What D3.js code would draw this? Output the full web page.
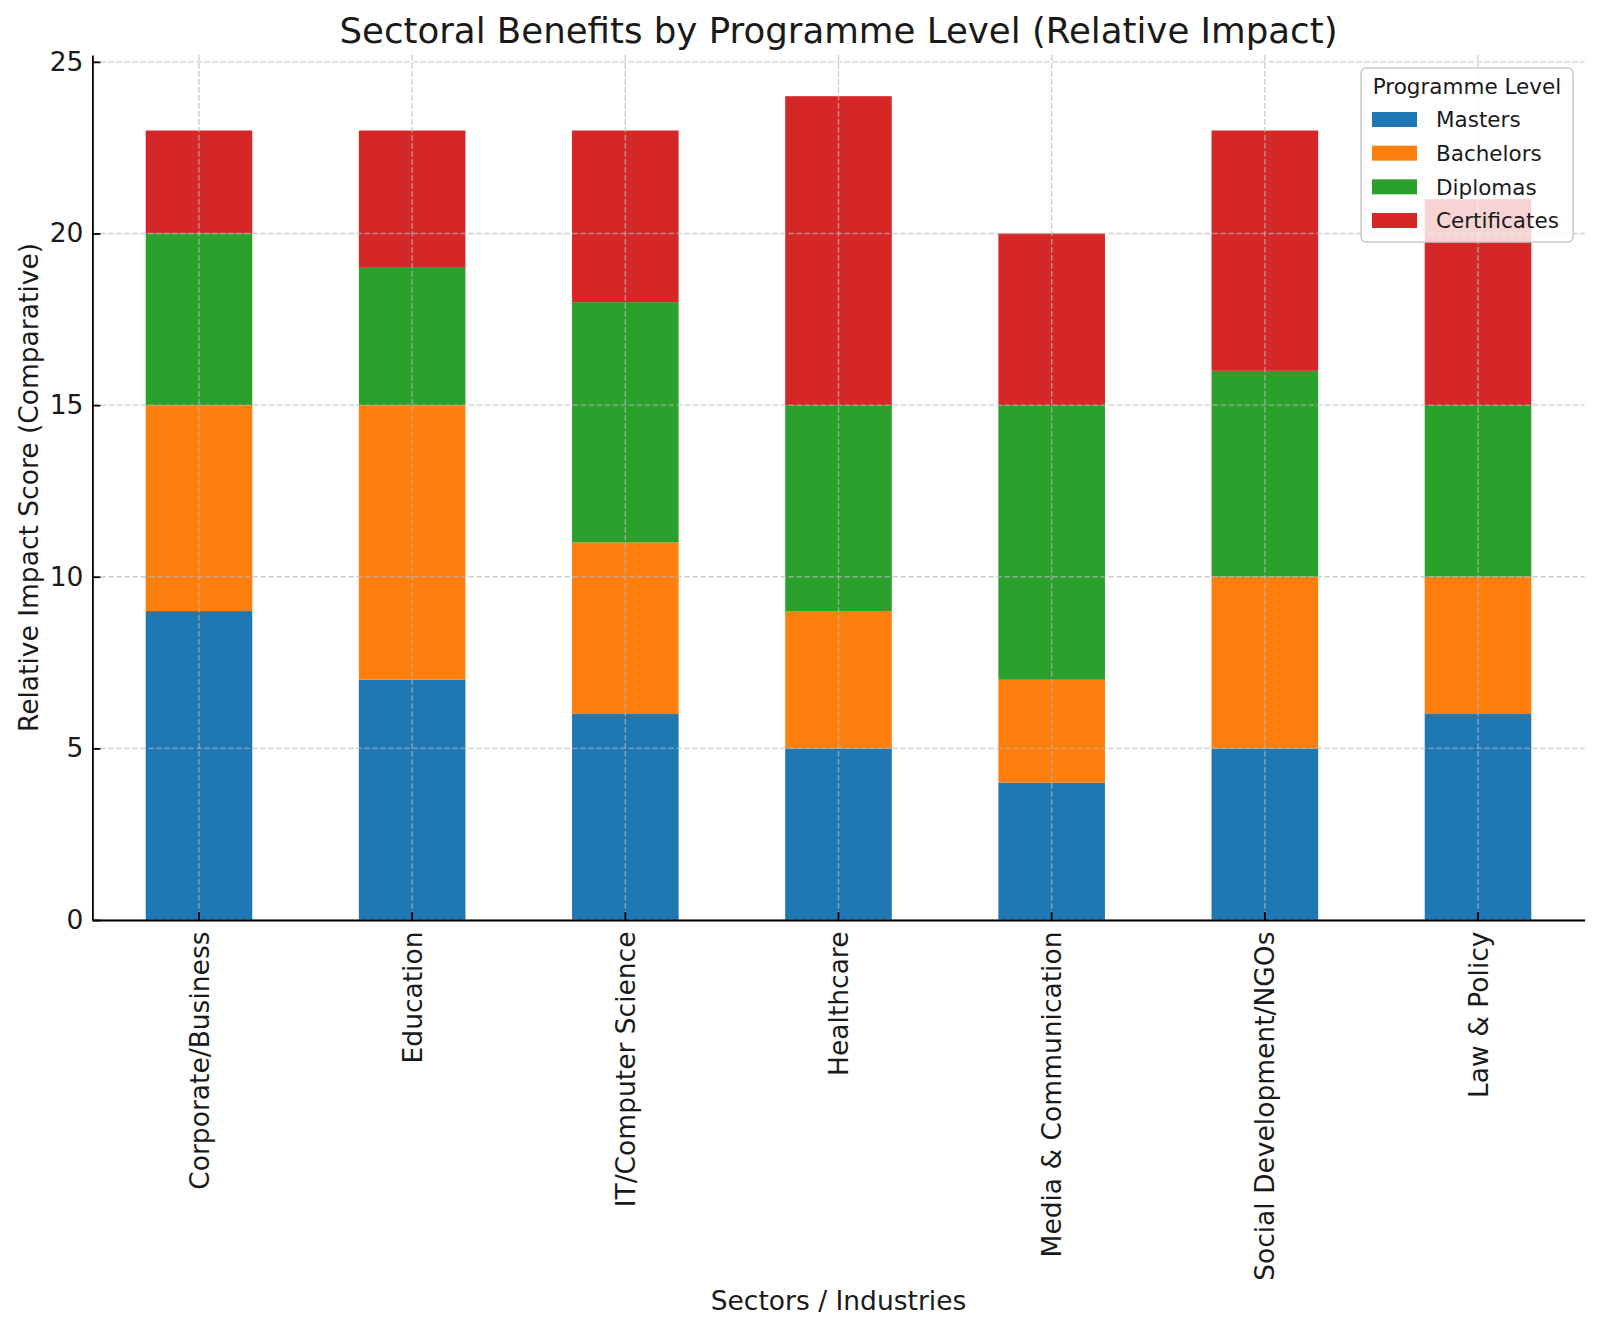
<!DOCTYPE html>
<html>
<head>
<meta charset="utf-8">
<script src="https://cdn.jsdelivr.net/npm/d3@7"></script>
<style>
  html, body { margin: 0; padding: 0; background: #fff; }
  svg text { font-family: "DejaVu Sans", sans-serif; fill: #1a1a1a; }
</style>
</head>
<body>
<svg id="chart" width="1600" height="1332"></svg>
<script>
const categories = ["Corporate/Business", "Education", "IT/Computer Science", "Healthcare",
                    "Media & Communication", "Social Development/NGOs", "Law & Policy"];
const seriesNames = ["Masters", "Bachelors", "Diplomas", "Certificates"];
const masters      = [9, 7, 6, 5, 4, 5, 6];
const bachelors    = [6, 8, 5, 4, 3, 5, 4];
const diplomas     = [5, 4, 7, 6, 8, 6, 5];
const certificates = [3, 4, 5, 9, 5, 7, 6];
const seriesColors = ["#1f77b4", "#ff7f0e", "#2ca02c", "#d62728"];
const yTicks = [0, 5, 10, 15, 20, 25];
const titleText = "Sectoral Benefits by Programme Level (Relative Impact)";
const xLabelText = "Sectors / Industries";
const yLabelText = "Relative Impact Score (Comparative)";
const legendTitle = "Programme Level";

const rows = categories.map((c, i) => ({
  cat: c, Masters: masters[i], Bachelors: bachelors[i], Diplomas: diplomas[i], Certificates: certificates[i]
}));

const svg = d3.select("#chart");
const L = 92.4, R = 1584.6, T = 55, B = 920;
const tickFont = 26.5;

const x = d3.scaleBand().domain(categories).range([L, R]).paddingInner(0.5).paddingOuter(0.25);
const y = d3.scaleLinear().domain([0, 25.2]).range([B, T]);
const color = d3.scaleOrdinal().domain(seriesNames).range(seriesColors);

const stacked = d3.stack().keys(seriesNames)(rows);

// bars
svg.append("g").selectAll("g").data(stacked).join("g")
  .attr("fill", d => color(d.key))
  .selectAll("rect").data(d => d).join("rect")
  .attr("x", d => x(d.data.cat))
  .attr("width", x.bandwidth())
  .attr("y", d => y(d[1]))
  .attr("height", d => y(d[0]) - y(d[1]));

// gridlines (drawn over bars)
const grid = svg.append("g")
  .attr("stroke", "#b8b8b8").attr("stroke-opacity", 0.7)
  .attr("stroke-width", 1.4).attr("stroke-dasharray", "5.5,2.5").attr("fill", "none");
grid.selectAll("line.h").data(yTicks).join("line").attr("class", "h")
  .attr("x1", L).attr("x2", R).attr("y1", d => y(d)).attr("y2", d => y(d));
grid.selectAll("line.v").data(categories).join("line").attr("class", "v")
  .attr("x1", d => x(d) + x.bandwidth() / 2).attr("x2", d => x(d) + x.bandwidth() / 2)
  .attr("y1", T).attr("y2", B);

// y axis
const yAxis = d3.axisLeft(y).tickValues(yTicks).tickSizeInner(-8).tickSizeOuter(0).tickPadding(9)
  .tickFormat(d3.format("d"));
const gy = svg.append("g").attr("transform", `translate(${L},0)`).call(yAxis);
gy.select(".domain").attr("stroke", "#000").attr("stroke-width", 1.8);
gy.selectAll(".tick line").attr("stroke", "#000").attr("stroke-width", 1.8);
gy.selectAll(".tick text").attr("font-size", tickFont).attr("font-family", "DejaVu Sans").attr("fill", "#1a1a1a");

// x axis
const xAxis = d3.axisBottom(x).tickSizeInner(-8).tickSizeOuter(0).tickPadding(10);
const gx = svg.append("g").attr("transform", `translate(0,${B})`).call(xAxis);
gx.select(".domain").attr("stroke", "#000").attr("stroke-width", 1.8);
gx.selectAll(".tick line").attr("stroke", "#000").attr("stroke-width", 1.8);
gx.selectAll(".tick text")
  .attr("font-size", tickFont).attr("font-family", "DejaVu Sans").attr("fill", "#1a1a1a")
  .attr("text-anchor", "end")
  .attr("transform", "translate(0,11.5) rotate(-90)")
  .attr("x", 0).attr("y", 0).attr("dy", "0.36em");

// title
svg.append("text").attr("x", (L + R) / 2).attr("y", 43).attr("text-anchor", "middle")
  .attr("font-size", 35.6).text(titleText);
// x label
svg.append("text").attr("x", (L + R) / 2).attr("y", 1310).attr("text-anchor", "middle")
  .attr("font-size", 26.5).text(xLabelText);
// y label
svg.append("text").attr("transform", `translate(38,${(T + B) / 2}) rotate(-90)`)
  .attr("text-anchor", "middle").attr("font-size", 26.5).text(yLabelText);

// legend
const lg = svg.append("g");
lg.append("rect").attr("x", 1361).attr("y", 68).attr("width", 212).attr("height", 174)
  .attr("rx", 5).attr("fill", "#fff").attr("fill-opacity", 0.8)
  .attr("stroke", "#cccccc").attr("stroke-width", 1.6);
lg.append("text").attr("x", 1467).attr("y", 94).attr("text-anchor", "middle")
  .attr("font-size", 21.5).text(legendTitle);
const rowY = d3.scalePoint().domain(seriesNames).range([119.5, 220.5]);
const items = lg.selectAll("g.item").data(seriesNames).join("g").attr("class", "item")
  .attr("transform", d => `translate(0,${rowY(d)})`);
items.append("rect").attr("x", 1372).attr("y", -7.5).attr("width", 45).attr("height", 15)
  .attr("fill", d => color(d));
items.append("text").attr("x", 1436).attr("y", 0).attr("dy", "0.36em")
  .attr("font-size", 21.5).text(d => d);
</script>
</body>
</html>
